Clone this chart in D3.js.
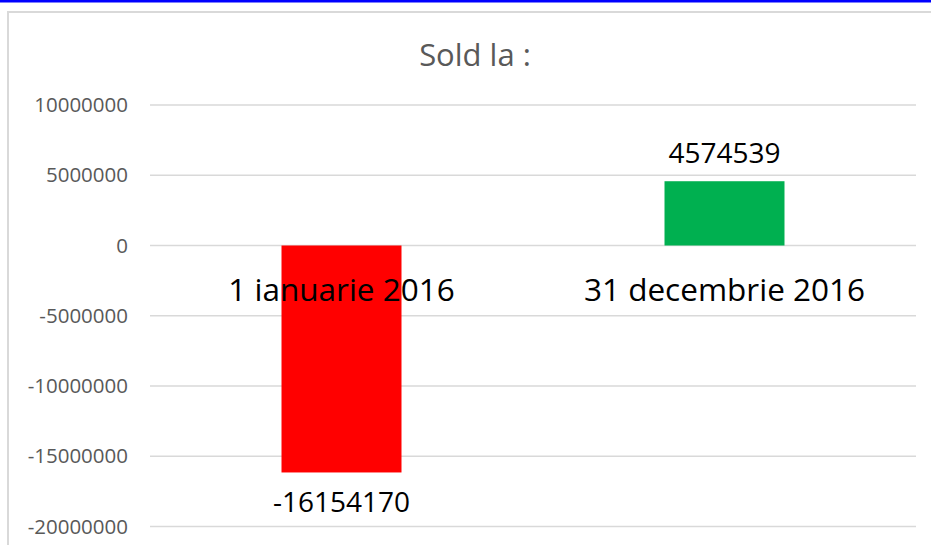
<!DOCTYPE html>
<html>
<head>
<meta charset="utf-8">
<script src="https://cdn.jsdelivr.net/npm/d3@7"></script>
<style>
	body { margin: 0; background: #fff; }
	svg { display: block; }
</style>
</head>
<body>
<svg id="chart" width="931" height="545"></svg>
<script>
const categories = ["1 ianuarie 2016", "31 decembrie 2016"];
const values = [-16154170, 4574539];
const barColors = ["#ff0000", "#00b050"];
const tickValues = [10000000, 5000000, 0, -5000000, -10000000, -15000000, -20000000];
const title = "Sold la :";

const svg = d3.select("#chart");
const font = "'Open Sans', 'Noto Sans', sans-serif";
// plain hyphen for negatives, like the original
const fmt = d => String(d);

// screenshot artefacts: blue strip on top and the chart frame
svg.append("rect")
	.attr("x", 0)
	.attr("y", 0)
	.attr("width", 931)
	.attr("height", 2.5)
	.attr("fill", "#0000ff");
svg.append("path")
	.attr("d", "M8,548 V12 H935")
	.attr("fill", "none")
	.attr("stroke", "#d9d9d9")
	.attr("stroke-width", 2);

const x = d3.scaleBand()
	.domain(categories)
	.range([150, 916])
	.paddingInner(0.6867)
	.paddingOuter(0.6867 / 2);
const y = d3.scaleLinear()
	.domain([-20000000, 10000000])
	.range([526.5, 105]);

// gridlines
svg.append("g")
	.selectAll("line")
	.data(tickValues)
	.join("line")
	.attr("x1", 150)
	.attr("x2", 916)
	.attr("y1", d => y(d))
	.attr("y2", d => y(d))
	.attr("stroke", "#d9d9d9")
	.attr("stroke-width", 1.3);

// y tick labels
svg.append("g")
	.selectAll("text")
	.data(tickValues)
	.join("text")
	.attr("x", 128)
	.attr("y", d => y(d))
	.attr("dy", "0.35em")
	.attr("text-anchor", "end")
	.attr("font-family", font)
	.attr("font-size", 20.5)
	.attr("fill", "#595959")
	.text(fmt);

// bars
svg.append("g")
	.selectAll("rect")
	.data(values)
	.join("rect")
	.attr("x", (d, i) => x(categories[i]))
	.attr("width", x.bandwidth())
	.attr("y", d => y(Math.max(0, d)))
	.attr("height", d => Math.abs(y(d) - y(0)))
	.attr("fill", (d, i) => barColors[i]);

// value labels
svg.append("g")
	.selectAll("text")
	.data(values)
	.join("text")
	.attr("x", (d, i) => x(categories[i]) + x.bandwidth() / 2)
	.attr("y", d => d >= 0 ? y(d) - 18 : y(d) + 40)
	.attr("text-anchor", "middle")
	.attr("font-family", font)
	.attr("font-size", 28)
	.attr("fill", "#000")
	.text(fmt);

// category labels
svg.append("g")
	.selectAll("text")
	.data(categories)
	.join("text")
	.attr("x", d => x(d) + x.bandwidth() / 2)
	.attr("y", 301)
	.attr("text-anchor", "middle")
	.attr("font-family", font)
	.attr("font-size", 31.5)
	.attr("fill", "#000")
	.text(d => d);

// title
svg.append("text")
	.attr("x", 475)
	.attr("y", 65.5)
	.attr("text-anchor", "middle")
	.attr("font-family", font)
	.attr("font-size", 31)
	.attr("fill", "#595959")
	.text(title);
</script>
</body>
</html>
